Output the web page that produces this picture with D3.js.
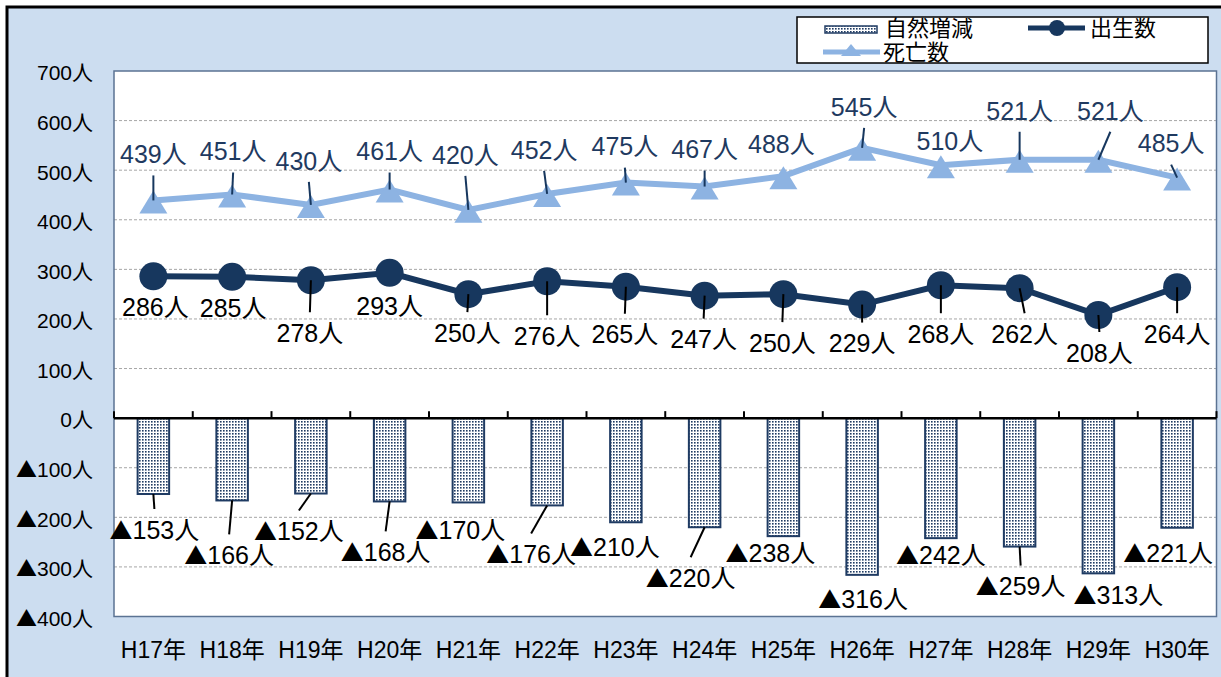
<!DOCTYPE html>
<html>
<head>
<meta charset="utf-8">
<script src="https://cdn.jsdelivr.net/npm/d3@7"></script>
<style>
  html, body { margin:0; padding:0; background:#fff; }
  text { font-family: "Liberation Sans", "Noto Sans CJK JP", sans-serif; }
  .tri { font-family: "Noto Sans CJK JP", sans-serif; }
</style>
</head>
<body>
<div id="chart"></div>
<script>
// data
var years = ["H17年","H18年","H19年","H20年","H21年","H22年","H23年","H24年","H25年","H26年","H27年","H28年","H29年","H30年"];
var births = [286,285,278,293,250,276,265,247,250,229,268,262,208,264];
var deaths = [439,451,430,461,420,452,475,467,488,545,510,521,521,485];
var natural = [-153,-166,-152,-168,-170,-176,-210,-220,-238,-316,-242,-259,-313,-221];
var yTicks = [700,600,500,400,300,200,100,0,-100,-200,-300,-400];

// label placement (offset from the point) and whether a leader line is shown
var deathLabelPos = [[0,-46],[1,-43],[-2,-44],[0,-38],[-3,-55],[-3,-44],[-1,-36],[0,-37],[-2,-32],[2,-41],[9,-24],[0,-49],[12,-49],[-6,-34]];
var deathLeader   = [1,1,1,1,1,1,1,1,0,1,0,1,1,1];
var birthLabelPos = [[2,31],[1,31],[-1,53],[0,33],[-1,39],[0,55],[-1,48],[-1,44],[-1,49],[0,39],[0,49],[5,46],[1,38],[0,47]];
var birthLeader   = [0,0,1,0,1,1,1,1,1,1,1,1,1,1];
var natLabelPos   = [[1,36],[-3,55],[-12,38],[-4,51],[-8,28],[-16,49],[-11,25],[-14,51],[-13,17],[1,24],[0,17],[1,40],[20,22],[-9,26]];
var natLeader     = [1,1,1,1,0,1,0,1,0,0,0,1,0,0];

var W = 1221, H = 677;
var plot = {left:114, right:1216.5, top:71, bottom:616.5};
var navy = "#17375E", lightBlue = "#8DB3E2";

var svg = d3.select("#chart").append("svg")
    .attr("width", W).attr("height", H);

var defs = svg.append("defs");
var pat = defs.append("pattern")
    .attr("id","dots").attr("patternUnits","userSpaceOnUse")
    .attr("width",3).attr("height",3);
pat.append("rect").attr("width",3).attr("height",3).attr("fill","#fff");
pat.append("rect").attr("x",1).attr("y",1).attr("width",1.6).attr("height",1.6).attr("fill","#1F3B63");

// writes "▲123人" with a full-width triangle
function signed(sel, v, triSize){
    if(v < 0){
        sel.append("tspan").attr("class","tri").style("font-size",triSize).text("▲");
        sel.append("tspan").text((-v)+"人");
    } else {
        sel.text(v+"人");
    }
}

// outer chart area
svg.append("rect")
    .attr("x",7).attr("y",7).attr("width",1240).attr("height",700)
    .attr("fill","#CCDDF0").attr("stroke","#000").attr("stroke-width",3);

var x = d3.scaleBand().domain(years).range([plot.left, plot.right]).padding(0);
var y = d3.scaleLinear().domain([-400,700]).range([plot.bottom, plot.top]);
var cx = function(i){ return x(years[i]) + x.bandwidth()/2; };

// plot area
svg.append("rect")
    .attr("x",plot.left).attr("y",plot.top)
    .attr("width",plot.right-plot.left).attr("height",plot.bottom-plot.top)
    .attr("fill","#fff");

// gridlines
svg.append("g").selectAll("line")
    .data(yTicks.filter(function(d){ return d!==0 && d!==700 && d!==-400; }))
    .join("line")
    .attr("x1",plot.left).attr("x2",plot.right)
    .attr("y1",function(d){return y(d);}).attr("y2",function(d){return y(d);})
    .attr("stroke","#A6A6A6").attr("stroke-width",1).attr("stroke-dasharray","3,2");

svg.append("rect")
    .attr("x",plot.left).attr("y",plot.top)
    .attr("width",plot.right-plot.left).attr("height",plot.bottom-plot.top)
    .attr("fill","none").attr("stroke","#5B7393").attr("stroke-width",1.5);

// y axis labels
svg.append("g").selectAll("text")
    .data(yTicks).join("text")
    .attr("x",plot.left-21).attr("y",function(d){ return y(d)+2; }).attr("dy","0.35em")
    .attr("text-anchor","end").style("font-size","21px").attr("fill","#000")
    .each(function(d){ signed(d3.select(this), d, "21px"); });

// x axis labels
svg.append("g").selectAll("text")
    .data(years).join("text")
    .attr("x",function(d){ return x(d)+x.bandwidth()/2; })
    .attr("y",650).attr("dy","0.35em")
    .attr("text-anchor","middle").style("font-size","23px").attr("fill","#000")
    .text(function(d){return d;});

// natural change bars
var barW = x.bandwidth()*0.4;
svg.append("g").selectAll("rect")
    .data(natural).join("rect")
    .attr("x",function(d,i){ return cx(i)-barW/2; })
    .attr("y",y(0))
    .attr("width",barW)
    .attr("height",function(d){ return y(d)-y(0); })
    .attr("fill","url(#dots)").attr("stroke","#1F3B63").attr("stroke-width",2);

// zero line with ticks at category boundaries
svg.append("line")
    .attr("x1",plot.left).attr("x2",plot.right)
    .attr("y1",y(0)).attr("y2",y(0))
    .attr("stroke","#000").attr("stroke-width",2.5);
svg.append("g").selectAll("line")
    .data(d3.range(years.length+1)).join("line")
    .attr("x1",function(i){ return plot.left + i*x.bandwidth(); })
    .attr("x2",function(i){ return plot.left + i*x.bandwidth(); })
    .attr("y1",y(0)).attr("y2",y(0)-7)
    .attr("stroke","#000").attr("stroke-width",2);

// death line + triangles
var lineGen = d3.line().x(function(d,i){return cx(i);}).y(function(d){return y(d);});
svg.append("path").datum(deaths)
    .attr("d",lineGen).attr("fill","none")
    .attr("stroke",lightBlue).attr("stroke-width",6);
var tri = "M0,-10L14,13L-14,13Z";
svg.append("g").selectAll("path")
    .data(deaths).join("path")
    .attr("transform",function(d,i){ return "translate("+cx(i)+","+y(d)+")"; })
    .attr("d",tri).attr("fill",lightBlue);

// birth line + circles
svg.append("path").datum(births)
    .attr("d",lineGen).attr("fill","none")
    .attr("stroke",navy).attr("stroke-width",6);
svg.append("g").selectAll("circle")
    .data(births).join("circle")
    .attr("cx",function(d,i){return cx(i);}).attr("cy",function(d){return y(d);})
    .attr("r",14).attr("fill",navy);

// leader lines and labels
function labels(vals, pos, leader, color, leadColor, above){
    var g = svg.append("g");
    vals.forEach(function(v,i){
        var px = cx(i), py = y(v);
        var lx = px + pos[i][0], ly = py + pos[i][1];
        if(leader[i]){
            g.append("line")
                .attr("x1",px).attr("y1",py)
                .attr("x2",lx).attr("y2", above ? ly+21 : ly-21)
                .attr("stroke",leadColor).attr("stroke-width",2);
        }
        var t = g.append("text")
            .attr("x",lx).attr("y",ly).attr("dy","0.35em")
            .attr("text-anchor","middle").style("font-size","25px")
            .attr("fill",color);
        signed(t, v, "23px");
    });
}
labels(deaths, deathLabelPos, deathLeader, "#1F3A60", navy, true);
labels(births, birthLabelPos, birthLeader, "#000", "#000", false);
labels(natural, natLabelPos, natLeader, "#000", "#000", false);

// legend
var lg = svg.append("g");
lg.append("rect").attr("x",797).attr("y",17).attr("width",411).attr("height",46)
    .attr("fill","#fff").attr("stroke","#000").attr("stroke-width",1.5);
lg.append("rect").attr("x",825).attr("y",26).attr("width",52).attr("height",7)
    .attr("fill","url(#dots)").attr("stroke","#1F3B63").attr("stroke-width",1.5);
lg.append("text").attr("x",885).attr("y",28).attr("dy","0.35em")
    .style("font-size","22px").attr("fill","#000").text("自然増減");
lg.append("line").attr("x1",1028).attr("x2",1085).attr("y1",28).attr("y2",28)
    .attr("stroke",navy).attr("stroke-width",5);
lg.append("circle").attr("cx",1057).attr("cy",28).attr("r",8).attr("fill",navy);
lg.append("text").attr("x",1090).attr("y",28).attr("dy","0.35em")
    .style("font-size","22px").attr("fill","#000").text("出生数");
lg.append("line").attr("x1",823).attr("x2",880).attr("y1",52).attr("y2",52)
    .attr("stroke",lightBlue).attr("stroke-width",5);
lg.append("path").attr("transform","translate(851,51)").attr("d","M0,-7L10,5L-10,5Z").attr("fill",lightBlue);
lg.append("text").attr("x",883).attr("y",52).attr("dy","0.35em")
    .style("font-size","22px").attr("fill","#000").text("死亡数");
</script>
</body>
</html>
